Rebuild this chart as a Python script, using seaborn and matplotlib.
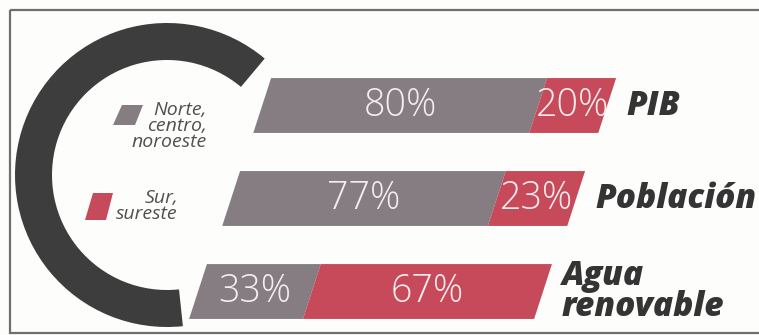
import matplotlib
matplotlib.use("Agg")
import matplotlib.pyplot as plt
import seaborn as sns
import pandas as pd
from matplotlib.patches import Wedge, Rectangle, Polygon
from matplotlib.transforms import Affine2D

# ---------------- data ----------------
categories = ["PIB", "Población", "Agua\nrenovable"]
north = [80, 77, 33]          # Norte, centro, noroeste (%)
south = [20, 23, 67]          # Sur, sureste (%)
north_label = "Norte,\ncentro,\nnoroeste"
south_label = "Sur,\nsureste"

# ---------------- layout / style ----------------
W, H = 759, 335
PX_PER_UNIT = 3.45
bar_left = [76.0, 67.0, 57.4]      # left start of each bar (units)
ROW0_PX, ROW_STEP_PX = 105.5, 93.0
BAR_W = 0.59
SKEW_DEG = 18
GRAY = "#857d82"
RED = "#c64a5a"
ARC = "#3d3d3d"
PCT_COLOR = "#f4ecef"
LABEL_COLOR = "#343434"
LEGEND_TEXT = "#505050"

sns.set_theme(style="white")
plt.rcParams["font.family"] = ["Open Sans", "DejaVu Sans"]

fig = plt.figure(figsize=(W / 100, H / 100), dpi=100, facecolor="#fdfdfc")

# decoration layer in pixel coordinates
deco = fig.add_axes([0, 0, 1, 1])
deco.set_xlim(0, W)
deco.set_ylim(H, 0)
deco.axis("off")
deco.add_patch(Rectangle((10, 10), 800, 323, fill=False, ec="#6f6f6f", lw=1.6))
deco.add_patch(Wedge((167, 175), 152, 84, 310, width=37, fc=ARC, ec="none"))
deco.add_patch(Polygon([(113, 125), (122, 105), (143, 105), (135, 125)],
                       closed=True, fc=GRAY, ec="none"))
deco.add_patch(Polygon([(85, 220), (93, 193), (113, 193), (106, 220)],
                       closed=True, fc=RED, ec="none"))
deco.text(207, 101, north_label, ha="right", va="top", multialignment="right",
          style="italic", fontsize=14, color=LEGEND_TEXT, linespacing=0.85)
deco.text(178, 189, south_label, ha="right", va="top", multialignment="right",
          style="italic", fontsize=14, color=LEGEND_TEXT, linespacing=0.85)

# bar layer
ax = fig.add_axes([0, 0, 1, 1])
ax.patch.set_visible(False)
df = pd.DataFrame({"cat": categories, "north": north, "south": south})
sns.barplot(data=df, x="north", y="cat", orient="h", color=GRAY, saturation=1,
            width=BAR_W, ax=ax)
n0 = len(ax.patches)
sns.barplot(data=df, x="south", y="cat", orient="h", color=RED, saturation=1,
            width=BAR_W, ax=ax)
gray_bars = sorted(ax.patches[:n0], key=lambda p: p.get_y())
red_bars = sorted(ax.patches[n0:], key=lambda p: p.get_y())

ax.set_xlim(0, W / PX_PER_UNIT)
ax.set_ylim((H - ROW0_PX) / ROW_STEP_PX, -ROW0_PX / ROW_STEP_PX)
ax.axis("off")

for i, (g, r) in enumerate(zip(gray_bars, red_bars)):
    g.set_x(bar_left[i])
    r.set_x(bar_left[i] + g.get_width())
    cy = ax.transData.transform((0, i))[1]
    skew = Affine2D().translate(0, -cy).skew_deg(SKEW_DEG, 0).translate(0, cy)
    for p in (g, r):
        p.set_transform(ax.transData + skew)
        p.set_edgecolor("none")

    ax.text(bar_left[i] + north[i] / 2, i, f"{north[i]}%", ha="center",
            va="center", fontsize=27, fontweight="light", color=PCT_COLOR)
    ax.text(bar_left[i] + north[i] + south[i] / 2, i, f"{south[i]}%",
            ha="center", va="center", fontsize=27, fontweight="light",
            color=PCT_COLOR)
    ax.text(bar_left[i] + north[i] + south[i] + 5.5, i, categories[i],
            ha="left", va="center", fontsize=24, fontweight="heavy",
            style="italic", color=LABEL_COLOR, linespacing=0.9)

fig.savefig("out.png", dpi=100, facecolor=fig.get_facecolor())
